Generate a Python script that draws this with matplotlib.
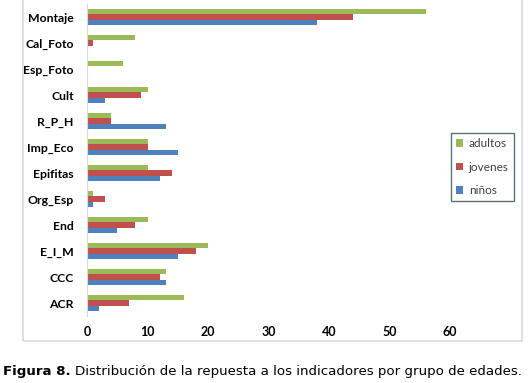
import numpy as np
import matplotlib.pyplot as plt
from matplotlib.patches import Rectangle

# categorias de arriba hacia abajo
categorias = ["Montaje", "Cal_Foto", "Esp_Foto", "Cult", "R_P_H", "Imp_Eco",
              "Epifitas", "Org_Esp", "End", "E_I_M", "CCC", "ACR"]
adultos = [56, 8, 6, 10, 4, 10, 10, 1, 10, 20, 13, 16]
jovenes = [44, 1, 0, 9, 4, 10, 14, 3, 8, 18, 12, 7]
ninos = [38, 0, 0, 3, 13, 15, 12, 1, 5, 15, 13, 2]
ticks_x = [0, 10, 20, 30, 40, 50, 60]

W, H = 528, 383
fig = plt.figure(figsize=(W / 100, H / 100), dpi=100)

# marco exterior del grafico
fig.patches.append(Rectangle((23 / W, 1 - 341 / H), (522 - 23) / W, 341 / H + 0.02,
                             transform=fig.transFigure, fill=False,
                             edgecolor="#d9d9d9", linewidth=1.2))

ax = fig.add_axes([87 / W, 1 - 316 / H, (450 - 87) / W, (316 - 4) / H])
y = np.arange(len(categorias))
h = 0.205
ax.barh(y - h, adultos, height=h, color="#9BBB59", label="adultos")
ax.barh(y, jovenes, height=h, color="#C0504D", label="jovenes")
ax.barh(y + h, ninos, height=h, color="#4F81BD", label="niños")

ax.set_ylim(len(categorias) - 0.5, -0.5)
ax.set_xlim(0, 60)
ax.set_yticks(y)
ax.set_yticklabels(categorias, fontsize=8.8, fontweight="bold", family="Lato")
ax.set_xticks(ticks_x)
ax.set_xticklabels([str(t) for t in ticks_x], fontsize=9, fontweight="bold", family="Lato")
ax.tick_params(axis="y", length=0, pad=9.5)
ax.tick_params(axis="x", length=0, pad=7.5)
for s in ["top", "right", "bottom"]:
    ax.spines[s].set_visible(False)
ax.spines["left"].set_color("#d9d9d9")

leg = ax.legend(loc="upper left", bbox_to_anchor=(451 / W, 1 - 133 / H),
                bbox_transform=fig.transFigure, frameon=True, fancybox=False,
                prop={"family": "Lato", "size": 8.5}, handlelength=0.6, handleheight=0.6,
                labelspacing=1.05, borderpad=0.45, handletextpad=0.45,
                borderaxespad=0)
leg.get_frame().set_edgecolor("#2f4f55")
leg.get_frame().set_linewidth(1.0)
for t in leg.get_texts():
    t.set_color("#404040")

# pie de figura
x0 = 3 / W
yc = 1 - 371 / H
t1 = fig.text(x0, yc, "Figura 8.", fontsize=9.6, fontweight="bold", family="DejaVu Sans",
              va="center", ha="left")
fig.canvas.draw()
bb = t1.get_window_extent(renderer=fig.canvas.get_renderer())
fig.text(bb.x1 / W + 4 / W, yc,
         "Distribución de la repuesta a los indicadores por grupo de edades.",
         fontsize=9.6, family="DejaVu Sans", va="center", ha="left")

fig.savefig("out.png", dpi=100)
